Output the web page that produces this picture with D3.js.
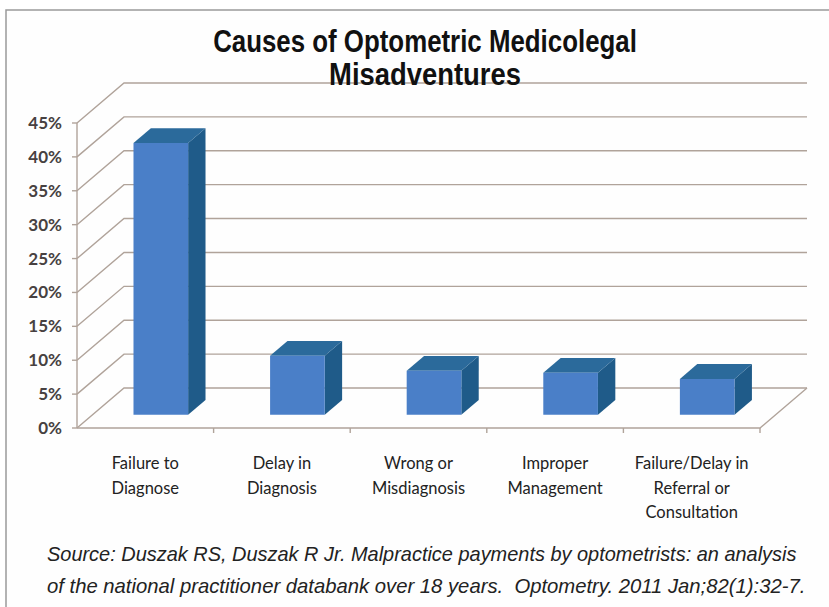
<!DOCTYPE html>
<html>
<head>
<meta charset="utf-8">
<script src="https://cdn.jsdelivr.net/npm/d3@7"></script>
<style>
  html, body { margin: 0; padding: 0; background: #ffffff; }
  svg { display: block; }
  text { white-space: pre; }
</style>
</head>
<body>
<svg id="chart" width="829" height="607"></svg>
<script>
// Share of medicolegal claims by cause (percent)
const categories = [
  ["Failure to", "Diagnose"],
  ["Delay in", "Diagnosis"],
  ["Wrong or", "Misdiagnosis"],
  ["Improper", "Management"],
  ["Failure/Delay in", "Referral or", "Consultation"]
];
const values = [40.1, 8.7, 6.5, 6.2, 5.3];
const yTicks = [0, 5, 10, 15, 20, 25, 30, 35, 40, 45];
const titleLines = ["Causes of Optometric Medicolegal", "Misadventures"];
const sourceLines = [
  "Source: Duszak RS, Duszak R Jr. Malpractice payments by optometrists: an analysis",
  "of the national practitioner databank over 18 years.  Optometry. 2011 Jan;82(1):32-7."
];

const svg = d3.select("#chart");

// page frame
svg.append("rect").attr("x", 6).attr("y", 10).attr("width", 823).attr("height", 597)
  .attr("fill", "#fefefe");
svg.append("path").attr("d", "M6,607 V10 H829")
  .attr("fill", "none").attr("stroke", "#9a9a9a").attr("stroke-width", 1.5);

// oblique 3D projection: depth fraction f shifts a point up and to the right
const DX = 47, DY = -40;
const P = (x, y, f) => [x + DX * f, y + DY * f];

const keys = categories.map((d, i) => i);
const x = d3.scaleBand().domain(keys).range([77, 760]).padding(0);
const y = d3.scaleLinear().domain([0, 45]).range([428, 123]);

const gridColor = "#b0a39a";
const g = svg.append("g");

// back-wall gridlines and left-wall diagonals
yTicks.forEach(t => {
  const yy = y(t);
  const a = P(77, yy, 0), b = P(77, yy, 1), c = P(760, yy, 1);
  g.append("path")
    .attr("d", `M${a[0]},${a[1]} L${b[0]},${b[1]} L${c[0]},${c[1]}`)
    .attr("fill", "none").attr("stroke", gridColor).attr("stroke-width", 1.4);
  // tick mark on the value axis
  g.append("line").attr("x1", 72).attr("x2", 77).attr("y1", yy).attr("y2", yy)
    .attr("stroke", gridColor).attr("stroke-width", 1.4);
});

// value axis line
g.append("line").attr("x1", 77).attr("x2", 77).attr("y1", y(45)).attr("y2", y(0))
  .attr("stroke", gridColor).attr("stroke-width", 1.4);

// floor front and right edges
{
  const fr = P(760, y(0), 0), br = P(760, y(0), 1);
  g.append("path")
    .attr("d", `M77,${y(0)} L${fr[0]},${fr[1]} L${br[0]},${br[1]}`)
    .attr("fill", "none").attr("stroke", gridColor).attr("stroke-width", 1.4);
}

// category tick marks
d3.range(1, keys.length + 1).forEach(i => {
  const xx = x.range()[0] + i * x.step();
  g.append("line").attr("x1", xx).attr("x2", xx).attr("y1", y(0)).attr("y2", y(0) + 5)
    .attr("stroke", gridColor).attr("stroke-width", 1.4);
});

// y-axis labels
svg.append("g").selectAll("text").data(yTicks).join("text")
  .attr("x", 62).attr("y", d => y(d) + 6)
  .attr("text-anchor", "end")
  .attr("font-family", "Lato, 'Open Sans', sans-serif")
  .attr("font-size", 17).attr("font-weight", "bold")
  .attr("fill", "#474141")
  .text(d => d + "%");

// 3D bars
const F0 = 0.33, F1 = 0.70, W = 0.4;
const bars = svg.append("g");
const poly = pts => "M" + pts.map(p => p.join(",")).join("L") + "Z";
values.forEach((v, i) => {
  const x0 = x(i) + x.bandwidth() * (1 - W) / 2;
  const x1 = x0 + x.bandwidth() * W;
  const yb = y(0), yt = y(v);
  // side face
  bars.append("path")
    .attr("d", poly([P(x1, yt, F0), P(x1, yt, F1), P(x1, yb, F1), P(x1, yb, F0)]))
    .attr("fill", "#1f5b89");
  // top face
  bars.append("path")
    .attr("d", poly([P(x0, yt, F0), P(x1, yt, F0), P(x1, yt, F1), P(x0, yt, F1)]))
    .attr("fill", "#2b6a9b");
  // front face
  bars.append("path")
    .attr("d", poly([P(x0, yt, F0), P(x1, yt, F0), P(x1, yb, F0), P(x0, yb, F0)]))
    .attr("fill", "#4a7fc8");
});

// category labels
const catG = svg.append("g");
categories.forEach((lines, i) => {
  const cx = x(i) + x.bandwidth() / 2;
  const t = catG.append("text")
    .attr("x", cx).attr("y", 469)
    .attr("text-anchor", "middle")
    .attr("font-family", "Lato, 'Open Sans', sans-serif")
    .attr("font-size", 16.5).attr("fill", "#222");
  lines.forEach((s, k) => {
    t.append("tspan").attr("x", cx).attr("dy", k === 0 ? 0 : 24.5).text(s);
  });
});

// condensed text: draw at natural width, then squeeze horizontally to fit `w`
function condensed(str, opts) {
  const grp = svg.append("g");
  const t = grp.append("text")
    .attr("x", 0).attr("y", 0)
    .attr("text-anchor", opts.anchor || "start")
    .attr("font-family", "'Liberation Sans', Arial, sans-serif")
    .attr("font-size", opts.size)
    .attr("font-weight", opts.weight || "normal")
    .attr("font-style", opts.style || "normal")
    .attr("fill", opts.fill)
    .text(str);
  const natural = t.node().getComputedTextLength();
  grp.attr("transform", `translate(${opts.x},${opts.y}) scale(${opts.w / natural},1)`);
}

// title
[{ y: 52, w: 424 }, { y: 85, w: 192 }].forEach((s, k) => {
  condensed(titleLines[k], { x: 425, y: s.y, w: s.w, size: 32, weight: "bold",
    anchor: "middle", fill: "#111" });
});

// source note
[{ y: 561, w: 750 }, { y: 593, w: 759 }].forEach((s, k) => {
  condensed(sourceLines[k], { x: 47, y: s.y, w: s.w, size: 21, style: "italic",
    fill: "#222" });
});
</script>
</body>
</html>
